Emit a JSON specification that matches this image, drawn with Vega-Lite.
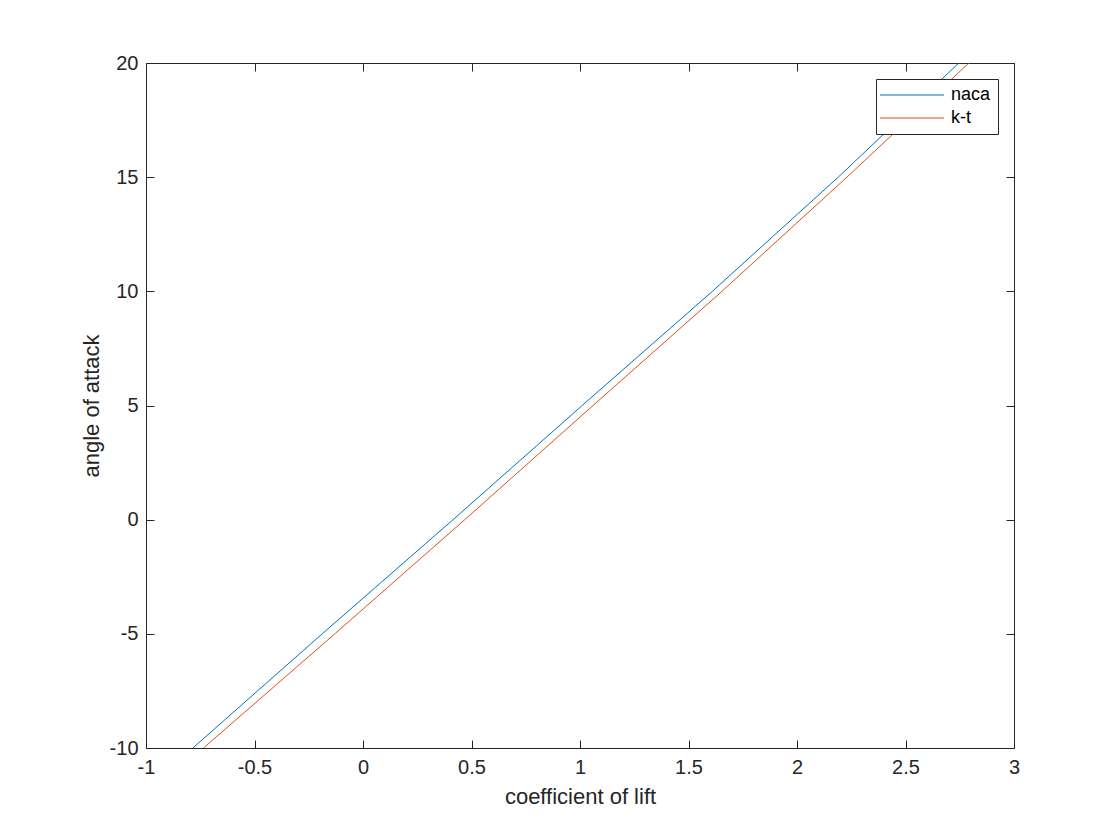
{
  "$schema": "https://vega.github.io/schema/vega-lite/v6.json",
  "autosize": "none",
  "width": 868,
  "height": 685,
  "padding": {"left": 146, "top": 63, "right": 106, "bottom": 92},
  "background": "white",
  "config": {
    "view": {"stroke": null},
    "font": "Liberation Sans",
    "axis": {"domainColor": "#262626", "tickColor": "#262626", "labelColor": "#262626", "titleColor": "#262626", "labelFontSize": 20, "titleFontSize": 22, "titleFontWeight": "normal", "grid": false, "domainWidth": 1, "tickWidth": 1}
  },
  "data": {"values": [
    {"series": "naca", "alpha": -10, "cl": -0.784},
    {"series": "naca", "alpha": -5, "cl": -0.188},
    {"series": "naca", "alpha": 0, "cl": 0.415},
    {"series": "naca", "alpha": 5, "cl": 1.01},
    {"series": "naca", "alpha": 10, "cl": 1.61},
    {"series": "naca", "alpha": 15, "cl": 2.19},
    {"series": "naca", "alpha": 20, "cl": 2.746},
    {"series": "k-t", "alpha": -10, "cl": -0.735},
    {"series": "k-t", "alpha": -5, "cl": -0.13},
    {"series": "k-t", "alpha": 0, "cl": 0.469},
    {"series": "k-t", "alpha": 5, "cl": 1.06},
    {"series": "k-t", "alpha": 10, "cl": 1.654},
    {"series": "k-t", "alpha": 15, "cl": 2.23},
    {"series": "k-t", "alpha": 20, "cl": 2.792}
  ]},
  "layer": [
    {
      "mark": {"type": "line", "strokeWidth": 1, "clip": true},
      "encoding": {
        "x": {"field": "cl", "type": "quantitative", "scale": {"domain": [-1, 3], "nice": false, "zero": false},
              "axis": {"orient": "bottom", "title": "coefficient of lift", "values": [-1, -0.5, 0, 0.5, 1, 1.5, 2, 2.5, 3], "labelExpr": "'' + datum.value", "tickSize": -8, "labelPadding": 17, "titlePadding": 9, "labelFlush": false, "labelOverlap": false}},
        "y": {"field": "alpha", "type": "quantitative", "scale": {"domain": [-10, 20], "nice": false, "zero": false},
              "axis": {"orient": "left", "title": "angle of attack", "values": [-10, -5, 0, 5, 10, 15, 20], "labelExpr": "'' + datum.value", "tickSize": -8, "labelPadding": 16, "titlePadding": 6, "labelFlush": false, "labelOverlap": false}},
        "color": {"field": "series", "type": "nominal", "sort": ["naca", "k-t"],
                  "scale": {"domain": ["naca", "k-t"], "range": ["#0072BD", "#D95319"]},
                  "legend": {"title": null, "orient": "none", "legendX": 730, "legendY": 16, "symbolType": "M-6,0H26", "symbolSize": 16, "symbolStrokeWidth": 1, "labelFontSize": 18, "labelColor": "black", "strokeColor": "#262626", "fillColor": "white", "padding": 7, "rowPadding": 5, "labelOffset": 50, "symbolOffset": 0}}
      }
    },
    {
      "mark": {"type": "rule", "opacity": 0},
      "encoding": {
        "x": {"field": "cl", "type": "quantitative", "axis": {"orient": "top", "title": null, "labels": false, "values": [-1, -0.5, 0, 0.5, 1, 1.5, 2, 2.5, 3], "tickSize": -8}},
        "y": {"field": "alpha", "type": "quantitative", "axis": {"orient": "right", "title": null, "labels": false, "values": [-10, -5, 0, 5, 10, 15, 20], "tickSize": -8}}
      }
    }
  ],
  "resolve": {"axis": {"x": "independent", "y": "independent"}}
}
